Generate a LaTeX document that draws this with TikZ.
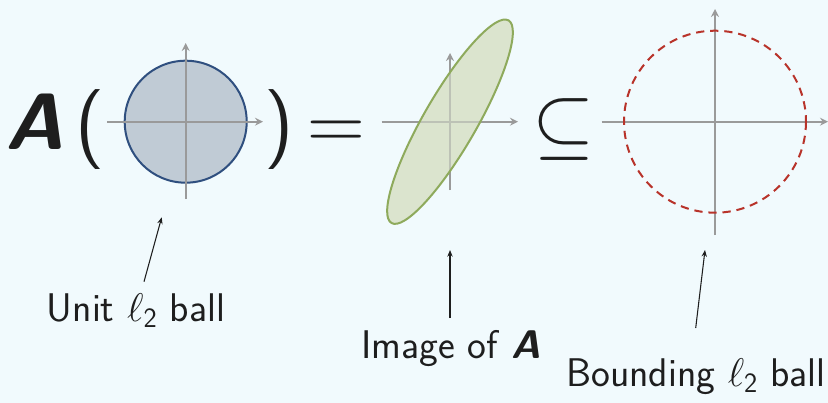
\RequirePackage{fix-cm}
\documentclass[tikz,border=0pt]{standalone}
\usepackage{fontspec}
\usepackage{amsmath,amssymb}
\usetikzlibrary{arrows.meta}
\definecolor{bgc}{HTML}{F1FAFD}
\definecolor{axisgray}{HTML}{9A9A9A}
\definecolor{ballfill}{HTML}{C0CBD5}
\definecolor{balldraw}{HTML}{2F4F7F}
\definecolor{ellfill}{HTML}{DBE4CE}
\definecolor{elldraw}{HTML}{8EAA5C}
\definecolor{boundred}{HTML}{B8332A}
\definecolor{ink}{HTML}{1E1E1E}
\tikzset{
  axis/.style={draw=axisgray, line width=1.5pt, -{Stealth[length=6pt,width=6pt,inset=2pt]}},
  bigsym/.style={anchor=base, inner sep=0pt, text=ink, font=\sffamily\fontsize{60}{72}\selectfont},
  lbl/.style={anchor=base, inner sep=0pt, text=ink, font=\sffamily\fontsize{30}{36}\selectfont},
  pointer/.style={draw=ink, line width=0.8pt, -{Stealth[length=5pt,width=4pt]}}
}
\begin{document}
\begin{tikzpicture}[x=0.75pt,y=-0.75pt]
\useasboundingbox[fill=bgc] (0,0) rectangle (828,403);
% big formula symbols
\node[bigsym] (A) at (35,149) {\textbf{\textit{A}}};
\node[bigsym] (lp) at (90,149) {(};
\node[bigsym] (rp) at (279,149) {)};
\node[bigsym] (eq) at (336.5,149) {$=$};
\node[bigsym] (sub) at (564,149) {$\subseteq$};
% unit ball
\node[circle, fill=ballfill, draw=balldraw, line width=1.5pt, minimum size=91.5pt, inner sep=0pt] (ball) at (185.7,121.7) {};
\coordinate (b1l) at (107,121.7); \coordinate (b1r) at (263,121.7);
\coordinate (b1b) at (185.7,199); \coordinate (b1t) at (185.7,43);
\draw[axis] (b1l) -- (b1r);
\draw[axis] (b1b) -- (b1t);
% ellipse image
\coordinate (ec) at (450,121.7);
\fill[ellfill, rotate around={60:(ec)}] (ec) ellipse [x radius=117, y radius=26.5];
\coordinate (b2l) at (381.7,121.7); \coordinate (b2r) at (518,121.7);
\coordinate (b2b) at (450,190); \coordinate (b2t) at (450,53);
\draw[axis] (b2l) -- (b2r);
\draw[axis] (b2b) -- (b2t);
\fill[ellfill, opacity=0.55, rotate around={60:(ec)}] (ec) ellipse [x radius=117, y radius=26.5];
\draw[elldraw, line width=1.5pt, rotate around={60:(ec)}] (ec) ellipse [x radius=117, y radius=26.5];
% bounding ball
\coordinate (bc) at (715,121.7);
\coordinate (b3l) at (601.7,121.7); \coordinate (b3r) at (828,121.7);
\coordinate (b3b) at (715,235); \coordinate (b3t) at (715,9);
\draw[axis] (b3l) -- (b3r);
\draw[axis] (b3b) -- (b3t);
\draw[boundred, line width=1.5pt, dash pattern=on 6.2pt off 4.4pt] (bc) circle [radius=91];
% labels
\node[lbl] (l1) at (136,321.7) {Unit $\ell_{\mathsf{2}}$ ball};
\node[lbl] (l2) at (451,358) {Image of \textbf{\textit{A}}};
\node[lbl] (l3) at (696,386.7) {Bounding $\ell_{\mathsf{2}}$ ball};
\coordinate (s1) at (144,281.7); \coordinate (t1) at (161.7,217.3);
\coordinate (s2) at (450,318);   \coordinate (t2) at (450,250);
\coordinate (s3) at (695.7,328); \coordinate (t3) at (705,250);
\draw[pointer] (s1) -- (t1);
\draw[pointer] (s2) -- (t2);
\draw[pointer] (s3) -- (t3);
\end{tikzpicture}
\end{document}
